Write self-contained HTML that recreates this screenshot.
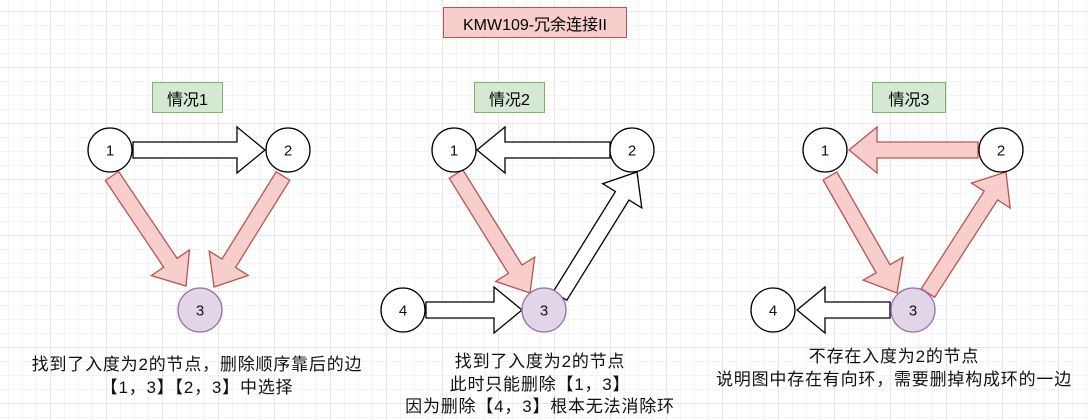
<!DOCTYPE html>
<html><head><meta charset="utf-8"><style>
html,body{margin:0;padding:0;background:#fff;}
#c{position:relative;width:1088px;height:420px;overflow:hidden;
background-color:#fff;
background-image:linear-gradient(#e6e6e6 1px,transparent 1px),linear-gradient(90deg,#e6e6e6 1px,transparent 1px),linear-gradient(#f3f3f3 1px,transparent 1px),linear-gradient(90deg,#f3f3f3 1px,transparent 1px);
background-size:56px 56px,56px 56px,14px 14px,14px 14px;background-position:-6px 11px;}
svg{position:absolute;left:0;top:0;}
.t{position:absolute;font-family:"Liberation Sans","Noto Sans CJK SC",sans-serif;font-size:17px;letter-spacing:0.8px;color:#111;text-align:center;white-space:nowrap;line-height:22.5px;}
.box{position:absolute;font-family:"Liberation Sans","Noto Sans CJK SC",sans-serif;font-size:16px;display:flex;align-items:center;justify-content:center;box-sizing:border-box;}
</style></head><body><div id="c">
<svg id="s" width="1088" height="420" xmlns="http://www.w3.org/2000/svg"></svg>
<div class="box" style="left:443px;top:7px;width:184px;height:31px;background:#f8cecc;border:1.5px solid #b85450;">KMW109-冗余连接II</div>
<div class="box" style="left:152px;top:82px;width:71px;height:31px;background:#d5e8d4;border:1.5px solid #82b366;">情况1</div>
<div class="box" style="left:474px;top:82px;width:71px;height:31px;background:#d5e8d4;border:1.5px solid #82b366;">情况2</div>
<div class="box" style="left:872px;top:82px;width:74px;height:31px;background:#d5e8d4;border:1.5px solid #82b366;">情况3</div>
<div class="t" style="left:-3px;width:400px;top:354px;">找到了入度为2的节点，删除顺序靠后的边<br>【1，3】【2，3】中选择</div>
<div class="t" style="left:340px;width:400px;top:351px;">找到了入度为2的节点<br>此时只能删除【1，3】<br>因为删除【4，3】根本无法消除环</div>
<div class="t" style="left:694px;width:400px;top:346px;">不存在入度为2的节点<br>说明图中存在有向环，需要删掉构成环的一边</div>
</div>
<script>
var s=document.getElementById('s'),h='';
function arrow(x1,y1,x2,y2,red){
 var dx=x2-x1,dy=y2-y1,L=Math.hypot(dx,dy),ux=dx/L,uy=dy/L,px=-uy,py=ux;
 var w=8,hw=23,hl=28;var bx=x2-ux*hl,by=y2-uy*hl;
 var p=[[x1+px*w,y1+py*w],[bx+px*w,by+py*w],[bx+px*hw,by+py*hw],[x2,y2],[bx-px*hw,by-py*hw],[bx-px*w,by-py*w],[x1-px*w,y1-py*w]];
 h+='<polygon points="'+p.map(function(q){return q[0].toFixed(1)+','+q[1].toFixed(1)}).join(' ')+'" fill="'+(red?'#f8cecc':'#fff')+'" stroke="'+(red?'#b85450':'#000')+'" stroke-width="1.3"/>';
}
function node(x,y,t,p){
 h+='<circle cx="'+x+'" cy="'+y+'" r="22" fill="'+(p?'#e1d5e7':'#fff')+'" stroke="'+(p?'#9673a6':'#000')+'" stroke-width="1.3"/>';
 h+='<text x="'+x+'" y="'+(y+5.5)+'" text-anchor="middle" font-family="Liberation Sans,sans-serif" font-size="15" fill="#111">'+t+'</text>';
}
arrow(133,150,265,150,0);arrow(112,176,186,286,1);arrow(283,176,214,287,1);
node(110,150,'1');node(288,150,'2');node(200,310,'3',1);
arrow(610,150,477,150,0);arrow(456,174,530,293,1);arrow(426,310,522,310,0);arrow(560,296,637,172,0);
node(454,150,'1');node(632,150,'2');node(544,310,'3',1);node(403,310,'4');
arrow(978,150,849,150,1);arrow(830,176,897,293,1);arrow(928,293,1006,172,1);arrow(890,310,797,310,0);
node(825,150,'1');node(1001,150,'2');node(913,310,'3',1);node(773,310,'4');
s.innerHTML=h;
</script>
</body></html>
